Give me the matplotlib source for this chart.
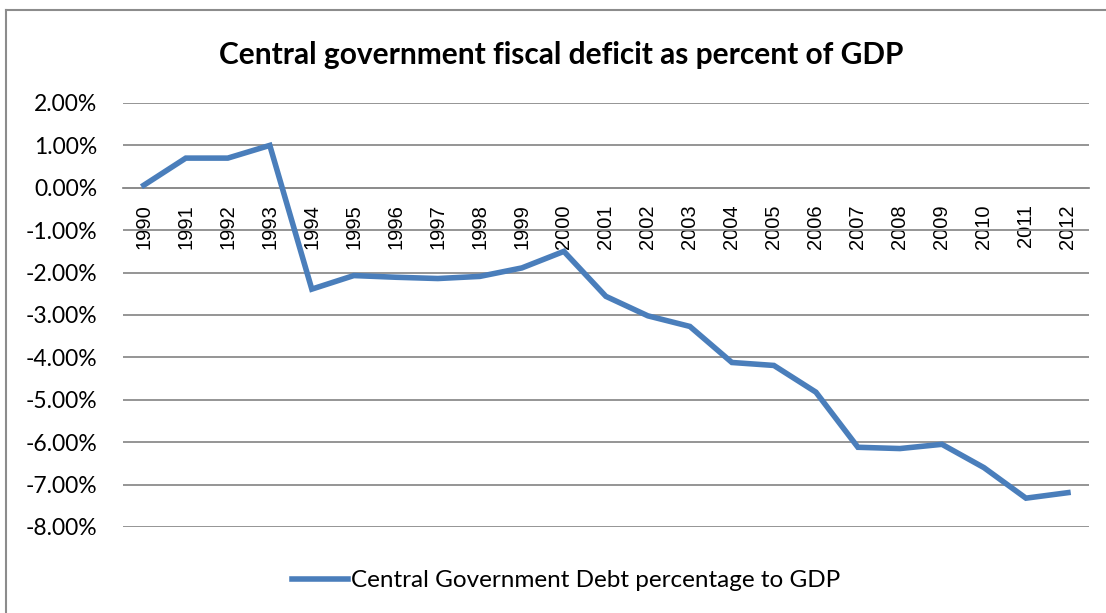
import numpy as np
import matplotlib.pyplot as plt
from matplotlib.lines import Line2D
from matplotlib.ticker import FuncFormatter

years = [str(y) for y in range(1990, 2013)]
deficit = [0.06, 0.70, 0.70, 1.00, -2.39, -2.07, -2.11, -2.14, -2.09, -1.89,
           -1.50, -2.56, -3.02, -3.27, -4.12, -4.19, -4.82, -6.12, -6.15, -6.05,
           -6.60, -7.32, -7.19]
y_ticks = list(range(2, -9, -1))

title = "Central government fiscal deficit as percent of GDP"
series_name = "Central Government Debt percentage to GDP"


def main():
    plt.rcParams['font.family'] = ['Lato', 'DejaVu Sans']

    fig = plt.figure(figsize=(11.06, 6.13), dpi=100)
    ax = fig.add_axes([0.111, 0.1403, 0.8736, 0.6917])

    x = np.arange(len(years))
    ax.plot(x, deficit, color="#4A7EBB", lw=4, label=series_name,
            solid_joinstyle="miter", zorder=3)

    ax.set_xlim(-0.5, len(years) - 0.5)
    ax.set_ylim(-8, 2)
    ax.set_yticks(y_ticks)
    ax.yaxis.set_major_formatter(FuncFormatter(lambda v, p: f"{v:.2f}%"))
    ax.tick_params(axis="y", length=0, pad=18.5, labelsize=16.5)
    ax.grid(axis="y", color="#8C8C8C", lw=1.3)
    ax.set_axisbelow(True)

    for s in ["top", "right", "left"]:
        ax.spines[s].set_visible(False)
    ax.spines["bottom"].set_position(("data", 0))
    ax.spines["bottom"].set_color("#8C8C8C")
    ax.spines["bottom"].set_linewidth(1.3)
    ax.set_xticks(x)
    ax.set_xticklabels(years, rotation=90, fontsize=14.5,
                       family=["Liberation Sans", "DejaVu Sans"])
    ax.tick_params(axis="x", length=0, pad=12)

    fig.text(0.5077, 0.91, title, ha="center", va="center", fontsize=21.5,
             fontweight="bold")

    fig.legend(loc="center", bbox_to_anchor=(0.512, 0.053), frameon=False,
               fontsize=17.5, handlelength=2.3, handletextpad=0.1)

    # chart area border: only the left and top edges show in the picture
    fig.add_artist(Line2D([0.0055, 0.0055], [0.0, 0.984], color="#8C8C8C",
                          lw=1.5, transform=fig.transFigure))
    fig.add_artist(Line2D([0.0055, 1.0], [0.984, 0.984], color="#8C8C8C",
                          lw=1.5, transform=fig.transFigure))

    fig.savefig("out.png", dpi=100)


if __name__ == "__main__":
    main()
